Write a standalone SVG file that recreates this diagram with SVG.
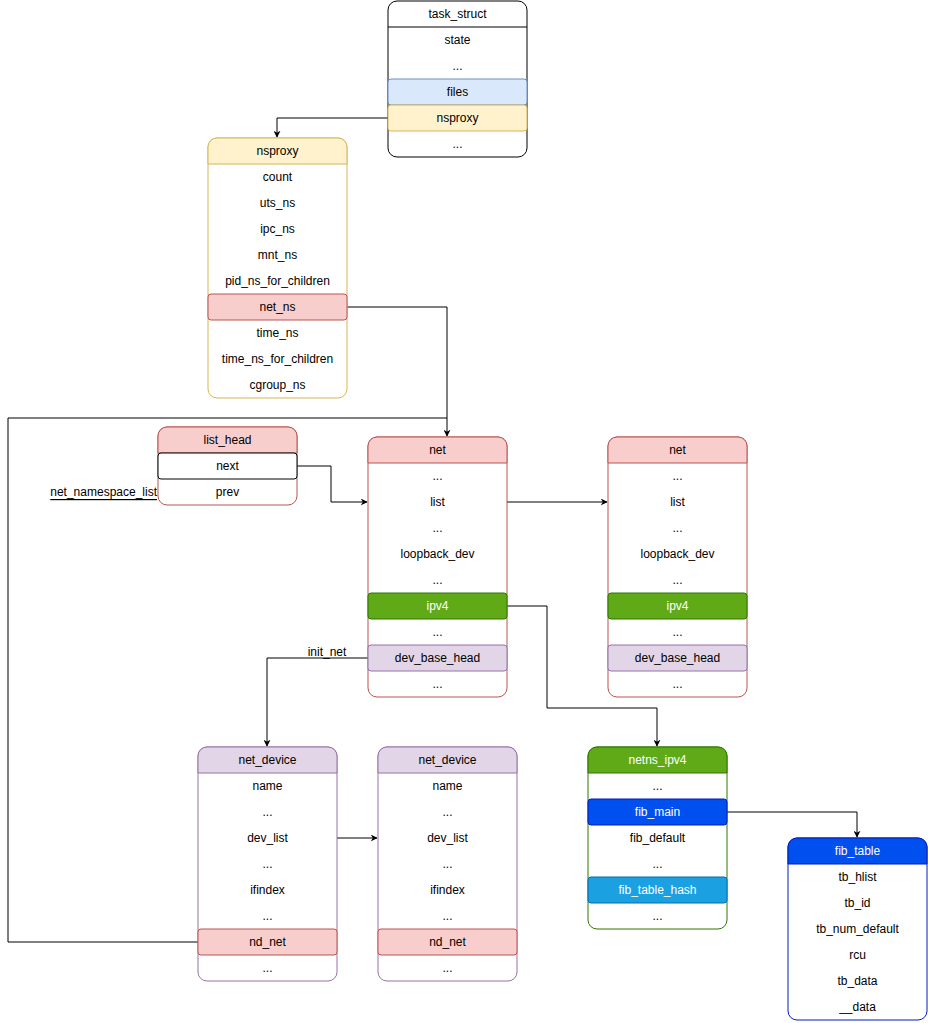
<svg xmlns="http://www.w3.org/2000/svg" width="928" height="1023" viewBox="0 0 928 1023">
<style>
text{font-family:"Liberation Sans",Arial,sans-serif;font-size:12px;fill:#000;text-anchor:middle;dominant-baseline:central}
.w{fill:#fff}
.box{fill:#fff;stroke-width:1}
.row{stroke-width:1}
.conn{fill:none;stroke:#000;stroke-width:1}
</style>
<defs>
<marker id="ah" viewBox="0 0 10 10" refX="9" refY="5" markerWidth="7" markerHeight="7" orient="auto" markerUnits="userSpaceOnUse">
<path d="M0,0 L10,5 L0,10 L3,5 Z" fill="#000"/>
</marker>
</defs>

<g id="connectors">
<path class="conn" d="M388,118 H277 V137" marker-end="url(#ah)"/>
<path class="conn" d="M347,307 H447 V436" marker-end="url(#ah)"/>
<path class="conn" d="M198,942 H8 V418 H447"/>
<path class="conn" d="M297,466 H331 V502 H367" marker-end="url(#ah)"/>
<path class="conn" d="M507,502 H607" marker-end="url(#ah)"/>
<path class="conn" d="M368,658 H267 V746" marker-end="url(#ah)"/>
<text x="327" y="652">init_net</text>
<path class="conn" d="M507,606 H547 V708 H657 V746" marker-end="url(#ah)"/>
<path class="conn" d="M337,838 H377" marker-end="url(#ah)"/>
<path class="conn" d="M727,812 H857 V837" marker-end="url(#ah)"/>
</g>

<g id="task_struct">
<rect class="box" x="388" y="1" width="139" height="156" rx="9" stroke="#000"/>
<line x1="388" y1="27" x2="527" y2="27" stroke="#000"/>
<text x="457.5" y="14">task_struct</text>
<text x="457.5" y="40">state</text>
<text x="457.5" y="66">...</text>
<rect x="388" y="79" width="139" height="26" rx="3" fill="#dae8fc" stroke="#6c8ebf"/>
<text x="457.5" y="92">files</text>
<rect x="388" y="105" width="139" height="26" rx="3" fill="#fff2cc" stroke="#d6b656"/>
<text x="457.5" y="118">nsproxy</text>
<text x="457.5" y="144">...</text>
</g>

<g id="nsproxy">
<rect class="box" x="208" y="138" width="139" height="260" rx="9" stroke="#d6b656"/>
<path d="M208,164 V147 A9,9 0 0 1 217,138 H338 A9,9 0 0 1 347,147 V164 Z" fill="#fff2cc" stroke="#d6b656"/>
<text x="277.5" y="151">nsproxy</text>
<text x="277.5" y="177">count</text>
<text x="277.5" y="203">uts_ns</text>
<text x="277.5" y="229">ipc_ns</text>
<text x="277.5" y="255">mnt_ns</text>
<text x="277.5" y="281">pid_ns_for_children</text>
<rect x="208" y="294" width="139" height="26" rx="3" fill="#f8cecc" stroke="#b85450"/>
<text x="277.5" y="307">net_ns</text>
<text x="277.5" y="333">time_ns</text>
<text x="277.5" y="359">time_ns_for_children</text>
<text x="277.5" y="385">cgroup_ns</text>
</g>

<g id="list_head">
<rect class="box" x="158" y="427" width="139" height="78" rx="9" stroke="#b85450"/>
<path d="M158,453 V436 A9,9 0 0 1 167,427 H288 A9,9 0 0 1 297,436 V453 Z" fill="#f8cecc" stroke="#b85450"/>
<text x="227.5" y="440">list_head</text>
<rect x="158" y="453" width="139" height="26" rx="3" fill="#fff" stroke="#000"/>
<text x="227.5" y="466">next</text>
<text x="227.5" y="492">prev</text>
</g>
<g id="net_namespace_list">
<text x="157" y="492" style="text-anchor:end;text-decoration:underline">net_namespace_list</text>
</g>

<g id="net1">
<rect class="box" x="368" y="437" width="139" height="260" rx="9" stroke="#b85450"/>
<path d="M368,463 V446 A9,9 0 0 1 377,437 H498 A9,9 0 0 1 507,446 V463 Z" fill="#f8cecc" stroke="#b85450"/>
<text x="437.5" y="450">net</text>
<text x="437.5" y="476">...</text>
<text x="437.5" y="502">list</text>
<text x="437.5" y="528">...</text>
<text x="437.5" y="554">loopback_dev</text>
<text x="437.5" y="580">...</text>
<rect x="368" y="593" width="139" height="26" rx="3" fill="#60a917" stroke="#2d7600"/>
<text class="w" x="437.5" y="606">ipv4</text>
<text x="437.5" y="632">...</text>
<rect x="368" y="645" width="139" height="26" rx="3" fill="#e1d5e7" stroke="#9673a6"/>
<text x="437.5" y="658">dev_base_head</text>
<text x="437.5" y="684">...</text>
</g>

<g id="net2">
<rect class="box" x="608" y="437" width="139" height="260" rx="9" stroke="#b85450"/>
<path d="M608,463 V446 A9,9 0 0 1 617,437 H738 A9,9 0 0 1 747,446 V463 Z" fill="#f8cecc" stroke="#b85450"/>
<text x="677.5" y="450">net</text>
<text x="677.5" y="476">...</text>
<text x="677.5" y="502">list</text>
<text x="677.5" y="528">...</text>
<text x="677.5" y="554">loopback_dev</text>
<text x="677.5" y="580">...</text>
<rect x="608" y="593" width="139" height="26" rx="3" fill="#60a917" stroke="#2d7600"/>
<text class="w" x="677.5" y="606">ipv4</text>
<text x="677.5" y="632">...</text>
<rect x="608" y="645" width="139" height="26" rx="3" fill="#e1d5e7" stroke="#9673a6"/>
<text x="677.5" y="658">dev_base_head</text>
<text x="677.5" y="684">...</text>
</g>

<g id="net_device1">
<rect class="box" x="198" y="747" width="139" height="234" rx="9" stroke="#9673a6"/>
<path d="M198,773 V756 A9,9 0 0 1 207,747 H328 A9,9 0 0 1 337,756 V773 Z" fill="#e1d5e7" stroke="#9673a6"/>
<text x="267.5" y="760">net_device</text>
<text x="267.5" y="786">name</text>
<text x="267.5" y="812">...</text>
<text x="267.5" y="838">dev_list</text>
<text x="267.5" y="864">...</text>
<text x="267.5" y="890">ifindex</text>
<text x="267.5" y="916">...</text>
<rect x="198" y="929" width="139" height="26" rx="3" fill="#f8cecc" stroke="#b85450"/>
<text x="267.5" y="942">nd_net</text>
<text x="267.5" y="968">...</text>
</g>

<g id="net_device2">
<rect class="box" x="378" y="747" width="139" height="234" rx="9" stroke="#9673a6"/>
<path d="M378,773 V756 A9,9 0 0 1 387,747 H508 A9,9 0 0 1 517,756 V773 Z" fill="#e1d5e7" stroke="#9673a6"/>
<text x="447.5" y="760">net_device</text>
<text x="447.5" y="786">name</text>
<text x="447.5" y="812">...</text>
<text x="447.5" y="838">dev_list</text>
<text x="447.5" y="864">...</text>
<text x="447.5" y="890">ifindex</text>
<text x="447.5" y="916">...</text>
<rect x="378" y="929" width="139" height="26" rx="3" fill="#f8cecc" stroke="#b85450"/>
<text x="447.5" y="942">nd_net</text>
<text x="447.5" y="968">...</text>
</g>

<g id="netns_ipv4">
<rect class="box" x="588" y="747" width="139" height="182" rx="9" stroke="#2d7600"/>
<path d="M588,773 V756 A9,9 0 0 1 597,747 H718 A9,9 0 0 1 727,756 V773 Z" fill="#60a917" stroke="#2d7600"/>
<text class="w" x="657.5" y="760">netns_ipv4</text>
<text x="657.5" y="786">...</text>
<rect x="588" y="799" width="139" height="26" rx="3" fill="#0050ef" stroke="#001dbc"/>
<text class="w" x="657.5" y="812">fib_main</text>
<text x="657.5" y="838">fib_default</text>
<text x="657.5" y="864">...</text>
<rect x="588" y="877" width="139" height="26" rx="3" fill="#1ba1e2" stroke="#006eaf"/>
<text class="w" x="657.5" y="890">fib_table_hash</text>
<text x="657.5" y="916">...</text>
</g>

<g id="fib_table">
<rect class="box" x="788" y="838" width="139" height="182" rx="9" stroke="#001dbc"/>
<path d="M788,864 V847 A9,9 0 0 1 797,838 H918 A9,9 0 0 1 927,847 V864 Z" fill="#0050ef" stroke="#001dbc"/>
<text class="w" x="857.5" y="851">fib_table</text>
<text x="857.5" y="877">tb_hlist</text>
<text x="857.5" y="903">tb_id</text>
<text x="857.5" y="929">tb_num_default</text>
<text x="857.5" y="955">rcu</text>
<text x="857.5" y="981">tb_data</text>
<text x="857.5" y="1007">__data</text>
</g>
</svg>
